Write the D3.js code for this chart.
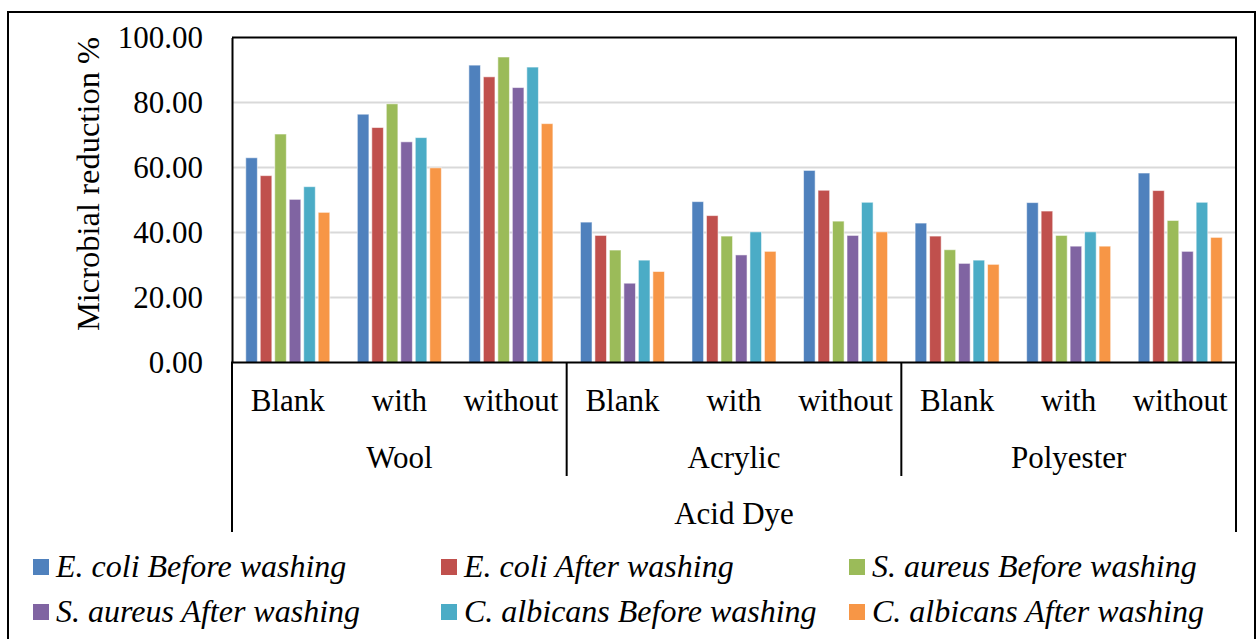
<!DOCTYPE html>
<html>
<head>
<meta charset="utf-8">
<script src="https://cdn.jsdelivr.net/npm/d3@7"></script>
<style>
  html, body { margin: 0; padding: 0; background: #fff; }
  svg { display: block; }
  text { font-family: "Liberation Serif", "Times New Roman", serif; fill: #000; }
</style>
</head>
<body>
<svg id="chart" width="1258" height="639"></svg>
<script>
// Microbial reduction (%) of acid-dyed fabrics, grouped by fabric and treatment
const fabrics = ["Wool", "Acrylic", "Polyester"];
const treatments = ["Blank", "with", "without"];
const dyeLabel = "Acid Dye";

const seriesNames = [
  "E. coli Before washing",
  "E. coli After washing",
  "S. aureus Before washing",
  "S. aureus After washing",
  "C. albicans Before washing",
  "C. albicans After washing"
];
const seriesColors = ["#4F81BD", "#C0504D", "#9BBB59", "#8064A2", "#4BACC6", "#F79646"];

// values per series, in order Wool(Blank, with, without), Acrylic(...), Polyester(...)
const ecoliBefore    = [63.0, 76.4, 91.5, 43.2, 49.5, 59.1, 42.9, 49.2, 58.3];
const ecoliAfter     = [57.5, 72.3, 87.9, 39.1, 45.2, 53.0, 38.9, 46.6, 52.9];
const saureusBefore  = [70.3, 79.6, 94.0, 34.6, 38.9, 43.5, 34.7, 39.1, 43.7];
const saureusAfter   = [50.2, 67.9, 84.6, 24.4, 33.1, 39.1, 30.5, 35.8, 34.2];
const calbicansBefore= [54.1, 69.2, 90.9, 31.5, 40.2, 49.3, 31.5, 40.2, 49.3];
const calbicansAfter = [46.2, 59.9, 73.5, 28.0, 34.2, 40.2, 30.2, 35.8, 38.5];

const yTicks = [0, 20, 40, 60, 80, 100];

const seriesValues = [ecoliBefore, ecoliAfter, saureusBefore, saureusAfter, calbicansBefore, calbicansAfter];

// flat category list: one per fabric/treatment pair
const categories = [];
fabrics.forEach(f => treatments.forEach(t => categories.push(f + "|" + t)));

const svg = d3.select("#chart");
const plot = { left: 232, right: 1236, top: 37.5, bottom: 362.5 };

// outer chart frame
svg.append("rect")
  .attr("x", 8).attr("y", 12)
  .attr("width", 1247).attr("height", 660)
  .attr("fill", "none").attr("stroke", "#000").attr("stroke-width", 2);

const x0 = d3.scaleBand().domain(categories).range([plot.left, plot.right]).padding(0);
const x1 = d3.scaleBand().domain(d3.range(seriesNames.length))
  .range([0, x0.bandwidth()]).paddingInner(0.2).paddingOuter(0.95);
const y = d3.scaleLinear().domain([0, 100]).range([plot.bottom, plot.top]);

// gridlines
svg.append("g").selectAll("line").data(yTicks.filter(t => t > 0 && t < 100)).join("line")
  .attr("x1", plot.left).attr("x2", plot.right)
  .attr("y1", d => y(d)).attr("y2", d => y(d))
  .attr("stroke", "#D9D9D9").attr("stroke-width", 2);

// bars
const barG = svg.append("g");
categories.forEach((c, ci) => {
  seriesValues.forEach((vals, si) => {
    barG.append("rect")
      .attr("x", x0(c) + x1(si))
      .attr("y", y(vals[ci]))
      .attr("width", x1.bandwidth())
      .attr("height", y(0) - y(vals[ci]))
      .attr("fill", seriesColors[si])
      .attr("stroke", "rgba(255,255,255,0.55)")
      .attr("stroke-width", 1);
  });
});

// plot frame (top and right edges)
svg.append("path")
  .attr("d", `M${plot.left},${plot.top}H${plot.right}V${plot.bottom}`)
  .attr("fill", "none").attr("stroke", "#000").attr("stroke-width", 2);

// y axis
const yAxis = d3.axisLeft(y).tickValues(yTicks).tickSize(0).tickPadding(29)
  .tickFormat(d3.format(".2f"));
const yg = svg.append("g").attr("transform", `translate(${plot.left},0)`).call(yAxis);
yg.select(".domain").attr("stroke", "#000").attr("stroke-width", 2);
yg.selectAll("text").style("font-family", "Liberation Serif, serif").style("font-size", "31px").attr("fill", "#000");

// y axis title
svg.append("text")
  .attr("transform", "translate(99,184) rotate(-90)")
  .attr("text-anchor", "middle")
  .style("font-size", "32.5px")
  .text("Microbial reduction %");

// x axis baseline
svg.append("line")
  .attr("x1", plot.left - 1).attr("x2", plot.right + 1)
  .attr("y1", plot.bottom).attr("y2", plot.bottom)
  .attr("stroke", "#000").attr("stroke-width", 2);

// hierarchical category axis
const groupW = x0.bandwidth() * treatments.length;
const sepG = svg.append("g").attr("stroke", "#000").attr("stroke-width", 2);
// outer edges run down to the dye level
sepG.append("line").attr("x1", plot.left).attr("x2", plot.left).attr("y1", plot.bottom).attr("y2", 532);
sepG.append("line").attr("x1", plot.right).attr("x2", plot.right).attr("y1", plot.bottom).attr("y2", 532);
// separators between fabrics
fabrics.slice(1).forEach((f, i) => {
  const xs = plot.left + groupW * (i + 1);
  sepG.append("line").attr("x1", xs).attr("x2", xs).attr("y1", plot.bottom).attr("y2", 476);
});

// treatment labels
svg.append("g").selectAll("text").data(categories).join("text")
  .attr("x", d => x0(d) + x0.bandwidth() / 2)
  .attr("y", 411)
  .attr("text-anchor", "middle")
  .style("font-size", "31px")
  .text(d => d.split("|")[1]);

// fabric labels
svg.append("g").selectAll("text").data(fabrics).join("text")
  .attr("x", (d, i) => plot.left + groupW * (i + 0.5))
  .attr("y", 468)
  .attr("text-anchor", "middle")
  .style("font-size", "31px")
  .text(d => d);

// dye label
svg.append("text")
  .attr("x", (plot.left + plot.right) / 2)
  .attr("y", 524)
  .attr("text-anchor", "middle")
  .style("font-size", "31px")
  .text(dyeLabel);

// legend: 3 columns x 2 rows
const legendCols = [33, 441, 849];
const legendRows = [577, 622];
const lg = svg.append("g");
seriesNames.forEach((name, i) => {
  const cx = legendCols[i % 3], cy = legendRows[Math.floor(i / 3)];
  lg.append("rect")
    .attr("x", cx).attr("y", cy - 18)
    .attr("width", 16).attr("height", 16)
    .attr("fill", seriesColors[i]);
  lg.append("text")
    .attr("x", cx + 23).attr("y", cy)
    .style("font-size", "32px")
    .style("font-style", "italic")
    .text(name);
});
</script>
</body>
</html>
